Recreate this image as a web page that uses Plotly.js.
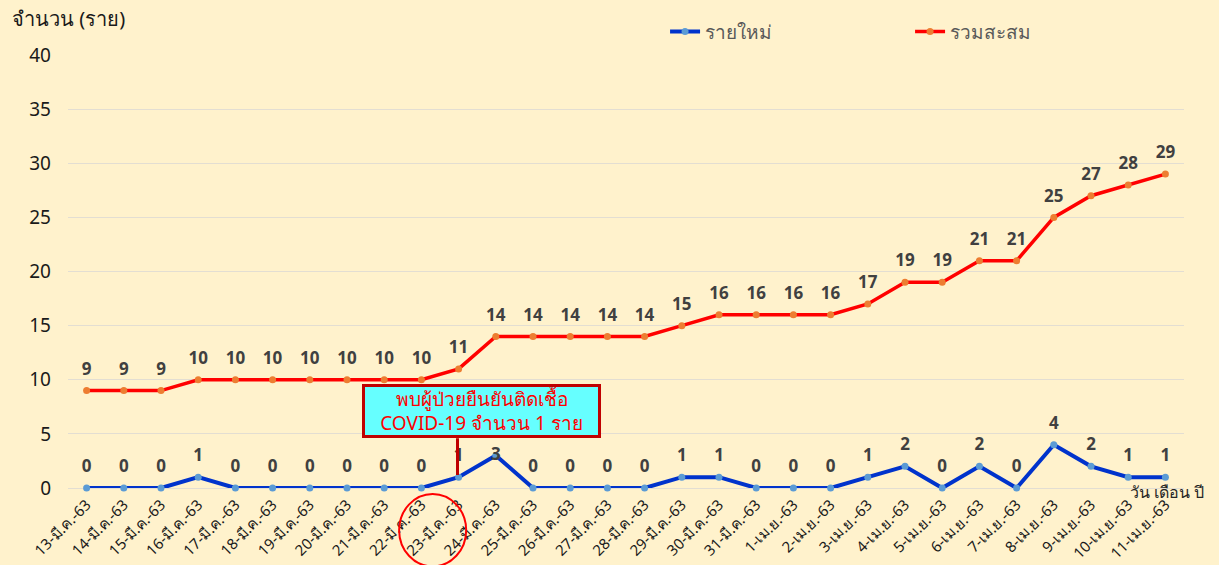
<!DOCTYPE html>
<html>
<head>
<meta charset="utf-8">
<script src="https://cdn.plot.ly/plotly-3.0.1.min.js"></script>
<style>
html,body{margin:0;padding:0;background:#FFF2CC;}
#chart{width:1219px;height:565px;}
</style>
</head>
<body>
<div id="chart"></div>
<script>
const dates = ["13-มี.ค.-63","14-มี.ค.-63","15-มี.ค.-63","16-มี.ค.-63","17-มี.ค.-63","18-มี.ค.-63","19-มี.ค.-63","20-มี.ค.-63","21-มี.ค.-63","22-มี.ค.-63","23-มี.ค.-63","24-มี.ค.-63","25-มี.ค.-63","26-มี.ค.-63","27-มี.ค.-63","28-มี.ค.-63","29-มี.ค.-63","30-มี.ค.-63","31-มี.ค.-63","1-เม.ย.-63","2-เม.ย.-63","3-เม.ย.-63","4-เม.ย.-63","5-เม.ย.-63","6-เม.ย.-63","7-เม.ย.-63","8-เม.ย.-63","9-เม.ย.-63","10-เม.ย.-63","11-เม.ย.-63"];
const newCases = [0,0,0,1,0,0,0,0,0,0,1,3,0,0,0,0,1,1,0,0,0,1,2,0,2,0,4,2,1,1];
const cumulative = [9,9,9,10,10,10,10,10,10,10,11,14,14,14,14,14,15,16,16,16,16,17,19,19,21,21,25,27,28,29];
const yTicks = [0,5,10,15,20,25,30,35,40];

const FONT = "Tahoma, 'Noto Sans', 'DejaVu Sans', sans-serif";
const xIdx = dates.map((d,i)=>i);
// the label under the callout box sits on its point (as in the original)
const calloutIdx = dates.indexOf("24-มี.ค.-63");
const newLabelPos = newCases.map((v,i)=> i === calloutIdx ? "middle center" : "top center");

const labelFont = {family: FONT, size: 17, color: "#404040", weight: "bold"};

const traces = [
  {
    x: xIdx, y: newCases, name: "รายใหม่", type: "scatter", mode: "lines+markers",
    line: {color: "#0033CC", width: 4},
    marker: {color: "#5B9BD5", size: 7},
    cliponaxis: false
  },
  {
    x: xIdx, y: cumulative, name: "รวมสะสม", type: "scatter", mode: "lines+markers",
    line: {color: "#FF0000", width: 3.5},
    marker: {color: "#ED7D31", size: 7},
    cliponaxis: false
  },
  {
    x: xIdx, y: newCases, type: "scatter", mode: "markers+text", showlegend: false,
    marker: {color: "rgba(0,0,0,0)", size: 17},
    text: newCases.map(String), textposition: newLabelPos, textfont: labelFont,
    cliponaxis: false, hoverinfo: "skip"
  },
  {
    x: xIdx, y: cumulative, type: "scatter", mode: "markers+text", showlegend: false,
    marker: {color: "rgba(0,0,0,0)", size: 17},
    text: cumulative.map(String), textposition: "top center", textfont: labelFont,
    cliponaxis: false, hoverinfo: "skip"
  }
];

const layout = {
  width: 1219, height: 565,
  margin: {l: 68, r: 35, t: 55, b: 77},
  paper_bgcolor: "#FFF2CC", plot_bgcolor: "#FFF2CC",
  font: {family: FONT, color: "#1a1a1a"},
  showlegend: true,
  legend: {
    orientation: "h", x: 0.535, xanchor: "left", y: 1.01, yanchor: "bottom",
    bgcolor: "rgba(0,0,0,0)", font: {size: 19, color: "#595959", family: FONT},
    entrywidth: 200, traceorder: "normal"
  },
  xaxis: {
    type: "linear", range: [-0.5, 29.5],
    tickmode: "array", tickvals: xIdx, ticktext: dates,
    tickangle: -45, tickfont: {size: 15, color: "#1a1a1a", family: FONT},
    showgrid: false, zeroline: false, showline: false, ticks: "", ticklabelstandoff: 4, fixedrange: true
  },
  yaxis: {
    range: [0, 40], tickmode: "array", tickvals: yTicks,
    tickfont: {size: 19, color: "#1a1a1a", family: FONT},
    showgrid: true, gridcolor: "#E3DED2", gridwidth: 1,
    zeroline: true, zerolinecolor: "#E3DED2", zerolinewidth: 1,
    showline: false, ticks: "", ticklabelstandoff: 16, fixedrange: true
  },
  annotations: [
    {xref: "paper", yref: "paper", x: -0.052, y: 1.085, xanchor: "left", yanchor: "middle",
     text: "จำนวน (ราย)", showarrow: false, font: {size: 20, color: "#1a1a1a", family: FONT}},
    {xref: "paper", yref: "paper", x: 1.02, y: -0.01, xanchor: "right", yanchor: "middle",
     text: "วัน เดือน ปี", showarrow: false, font: {size: 16, color: "#262626", family: FONT}},
    {xref: "x", yref: "y", x: 10.62, y: 7.1, xanchor: "center", yanchor: "middle",
     text: "พบผู้ป่วยยืนยันติดเชื้อ<br>COVID-19 จำนวน 1 ราย", showarrow: false,
     font: {size: 19, color: "#FF0000", family: FONT},
     bgcolor: "#66FFFF", bordercolor: "#C00000", borderwidth: 3, borderpad: 0,
     width: 233, height: 48}
  ],
  shapes: [
    {type: "line", xref: "x", yref: "y", x0: 9.97, x1: 9.97, y0: 1.2, y1: 4.6,
     line: {color: "#C00000", width: 3}},
    {type: "circle", xref: "paper", yref: "paper", x0: 0.2967, x1: 0.3568, y0: -0.181, y1: -0.0139,
     line: {color: "#FF0000", width: 2}}
  ]
};

Plotly.newPlot("chart", traces, layout, {displayModeBar: false, staticPlot: true});
</script>
</body>
</html>
